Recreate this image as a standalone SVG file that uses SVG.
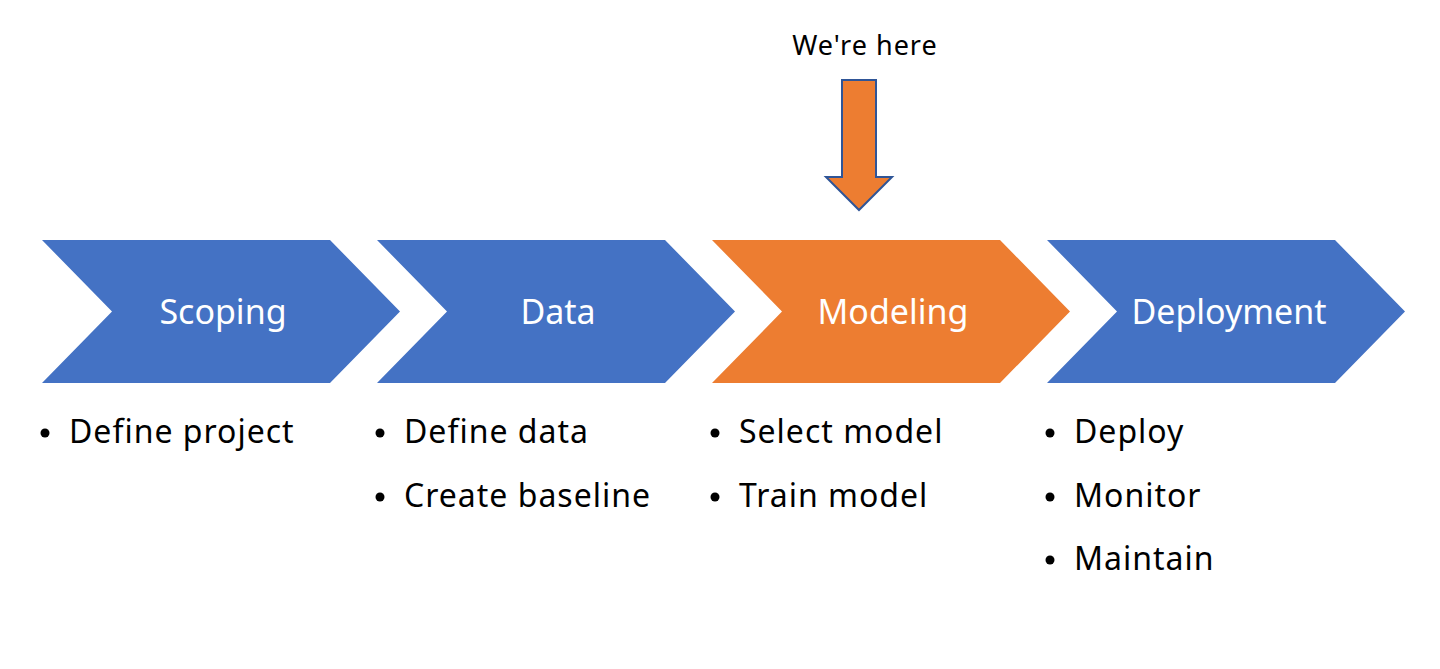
<svg xmlns="http://www.w3.org/2000/svg" width="1440" height="669" viewBox="0 0 1440 669">
<style>
.chev{fill:#4472C4}
.cur{fill:#ED7D31}
.lbl{font-family:"Noto Sans","Liberation Sans",sans-serif;font-size:34px;fill:#fff;text-anchor:middle}
.bul{font-family:"Noto Sans","Liberation Sans",sans-serif;font-size:32px;letter-spacing:1px;fill:#000}
.note{font-family:"Noto Sans","Liberation Sans",sans-serif;font-size:27px;letter-spacing:1px;fill:#000;text-anchor:middle}
</style>
<rect width="1440" height="669" fill="#fff"/>
<g id="scoping">
<polygon class="chev" points="42,240 330,240 400,311.5 330,383 42,383 112,311.5"/>
<text class="lbl" x="223" y="324">Scoping</text>
<circle cx="45" cy="433" r="4.5"/>
<text class="bul" x="69" y="443">Define project</text>
</g>
<g id="data">
<polygon class="chev" points="377,240 665,240 735,311.5 665,383 377,383 447,311.5"/>
<text class="lbl" x="558" y="324">Data</text>
<circle cx="380" cy="433" r="4.5"/>
<text class="bul" x="404" y="443">Define data</text>
<circle cx="380" cy="497" r="4.5"/>
<text class="bul" x="404" y="507">Create baseline</text>
</g>
<g id="modeling">
<polygon class="cur" points="712,240 1000,240 1070,311.5 1000,383 712,383 782,311.5"/>
<text class="lbl" x="893" y="324">Modeling</text>
<circle cx="715" cy="433" r="4.5"/>
<text class="bul" x="739" y="443">Select model</text>
<circle cx="715" cy="497" r="4.5"/>
<text class="bul" x="739" y="507">Train model</text>
</g>
<g id="deployment">
<polygon class="chev" points="1047,240 1335,240 1405,311.5 1335,383 1047,383 1117,311.5"/>
<text class="lbl" x="1229" y="324">Deployment</text>
<circle cx="1050" cy="433" r="4.5"/>
<text class="bul" x="1074" y="443">Deploy</text>
<circle cx="1050" cy="497" r="4.5"/>
<text class="bul" x="1074" y="507">Monitor</text>
<circle cx="1050" cy="560" r="4.5"/>
<text class="bul" x="1074" y="570">Maintain</text>
</g>
<g id="marker">
<text class="note" x="865" y="55">We're here</text>
<polygon points="842,80 876,80 876,177 892,177 859,210 826,177 842,177" fill="#ED7D31" stroke="#2F5597" stroke-width="2" stroke-linejoin="miter"/>
</g>
</svg>
